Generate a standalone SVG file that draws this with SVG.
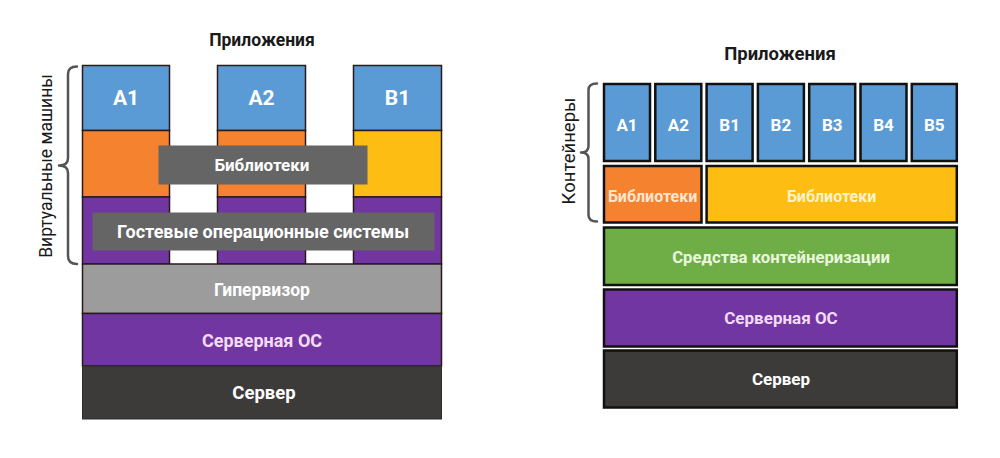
<svg xmlns="http://www.w3.org/2000/svg" width="1000" height="458" viewBox="0 0 1000 458">
<style>
text{font-family:Roboto,"Liberation Sans",sans-serif;font-weight:bold;text-anchor:middle;dominant-baseline:central}
.lb{stroke:#2a1a1a;stroke-width:1.5}
.rb{stroke:#111;stroke-width:2.5}
.w{fill:#fff}
.br{fill:none;stroke:#555;stroke-width:2.5;stroke-linecap:round;stroke-linejoin:round}
.ttl{fill:#1a1a1a}
.side{fill:#1a1a1a;font-weight:normal}
</style>
<rect width="1000" height="458" fill="#fff"/>
<!-- LEFT: virtual machines -->
<g id="left-title"><text class="ttl" x="262" y="40" font-size="17.5">Приложения</text></g>
<g id="vm-label">
<path class="br" d="M77,66.5 Q68,66.5 68,74 L68,158 Q68,165.5 59,165.5 Q68,165.5 68,173 L68,256 Q68,264 77,264"/>
<text class="side" transform="translate(46,166) rotate(-90)" font-size="17.5">Виртуальные машины</text>
</g>
<g id="vm1">
<rect class="lb" x="82.5" y="65.5" width="87" height="65" fill="#5b9bd5"/>
<rect class="lb" x="82.5" y="130.5" width="87" height="66.5" fill="#f5822f"/>
<rect class="lb" x="82.5" y="197" width="87" height="67" fill="#7236a3"/>
<text class="w" x="126" y="98" font-size="21">A1</text>
</g>
<g id="vm2">
<rect class="lb" x="217.5" y="65.5" width="88" height="65" fill="#5b9bd5"/>
<rect class="lb" x="217.5" y="130.5" width="88" height="66.5" fill="#f5822f"/>
<rect class="lb" x="217.5" y="197" width="88" height="67" fill="#7236a3"/>
<text class="w" x="261.5" y="98" font-size="21">A2</text>
</g>
<g id="vm3">
<rect class="lb" x="353.5" y="65.5" width="88" height="65" fill="#5b9bd5"/>
<rect class="lb" x="353.5" y="130.5" width="88" height="66.5" fill="#fdbd12"/>
<rect class="lb" x="353.5" y="197" width="88" height="67" fill="#7236a3"/>
<text class="w" x="397.5" y="98" font-size="21">B1</text>
</g>
<g id="libs-left">
<rect x="158.5" y="145.5" width="209" height="39" fill="#656565"/>
<text class="w" x="262" y="165" font-size="17">Библиотеки</text>
</g>
<g id="guest-os">
<rect x="92.5" y="212.5" width="342" height="38" fill="#656565"/>
<text class="w" x="263" y="231.5" font-size="18">Гостевые операционные системы</text>
</g>
<g id="hypervisor">
<rect class="lb" x="82.5" y="264" width="359" height="49.5" fill="#9c9c9c" stroke-width="1"/>
<text class="w" x="262" y="290" font-size="17.5">Гипервизор</text>
</g>
<g id="server-os-left">
<rect class="lb" x="82.5" y="313.5" width="359" height="52.5" fill="#7236a3"/>
<text x="262" y="340" font-size="18" fill="#f2dcf5">Серверная ОС</text>
</g>
<g id="server-left">
<rect x="82.5" y="366" width="359" height="53" fill="#3d3b3a" stroke="#2a2a2a" stroke-width="1"/>
<text class="w" x="264" y="393" font-size="18.5">Сервер</text>
</g>
<!-- RIGHT: containers -->
<g id="right-title"><text class="ttl" x="780" y="54" font-size="18.5">Приложения</text></g>
<g id="ct-label">
<path class="br" d="M597,83.5 Q588.5,83.5 588.5,90 L588.5,146 Q588.5,152.5 581,152.5 Q588.5,152.5 588.5,159 L588.5,215 Q588.5,221.5 597,221.5" stroke-width="2"/>
<text class="side" transform="translate(569,151) rotate(-90)" font-size="18.5">Контейнеры</text>
</g>
<g id="c-a1"><rect class="rb" x="604" y="84" width="46" height="77" fill="#5b9bd5"/><text class="w" x="627" y="125" font-size="17">A1</text></g>
<g id="c-a2"><rect class="rb" x="655.3" y="84" width="46" height="77" fill="#5b9bd5"/><text class="w" x="678.3" y="125" font-size="17">A2</text></g>
<g id="c-b1"><rect class="rb" x="706.6" y="84" width="46" height="77" fill="#5b9bd5"/><text class="w" x="729.6" y="125" font-size="17">B1</text></g>
<g id="c-b2"><rect class="rb" x="757.9" y="84" width="46" height="77" fill="#5b9bd5"/><text class="w" x="780.9" y="125" font-size="17">B2</text></g>
<g id="c-b3"><rect class="rb" x="809.2" y="84" width="46" height="77" fill="#5b9bd5"/><text class="w" x="832.2" y="125" font-size="17">B3</text></g>
<g id="c-b4"><rect class="rb" x="860.5" y="84" width="46" height="77" fill="#5b9bd5"/><text class="w" x="883.5" y="125" font-size="17">B4</text></g>
<g id="c-b5"><rect class="rb" x="911.8" y="84" width="45" height="77" fill="#5b9bd5"/><text class="w" x="934.3" y="125" font-size="17">B5</text></g>
<g id="libs-a">
<rect class="rb" x="604" y="166" width="97.5" height="56.5" fill="#f5822f"/>
<text x="652.7" y="196" font-size="16" fill="#fde6cf">Библиотеки</text>
</g>
<g id="libs-b">
<rect class="rb" x="706.6" y="166" width="250.2" height="56.5" fill="#fdbd12"/>
<text x="831.7" y="196" font-size="16" fill="#fff3cc">Библиотеки</text>
</g>
<g id="containerization">
<rect class="rb" x="604" y="227.5" width="352.8" height="57.5" fill="#6fae47"/>
<text x="781" y="257" font-size="16.7" fill="#eaf7df">Средства контейнеризации</text>
</g>
<g id="server-os-right">
<rect class="rb" x="604" y="289.5" width="352.8" height="57" fill="#7236a3"/>
<text x="781" y="318" font-size="17" fill="#f2dcf5">Серверная ОС</text>
</g>
<g id="server-right">
<rect class="rb" x="604" y="350.5" width="352.8" height="57" fill="#3d3b3a"/>
<text class="w" x="781" y="379" font-size="17">Сервер</text>
</g>
</svg>
